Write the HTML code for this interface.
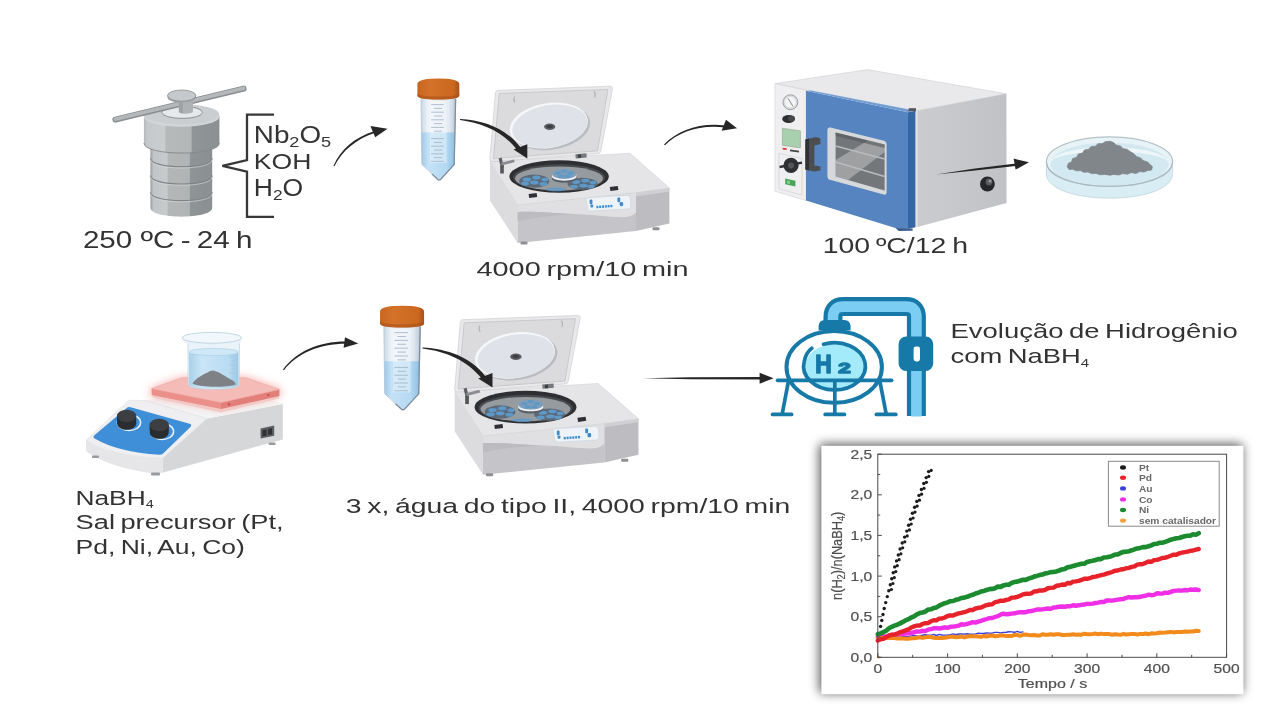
<!DOCTYPE html>
<html lang="pt">
<head>
<meta charset="utf-8">
<title>Síntese e evolução de hidrogênio</title>
<style>
html,body{margin:0;padding:0;background:#fff;width:1280px;height:720px;overflow:hidden}
svg{display:block}
.ar{font-family:"Liberation Sans",Arial,sans-serif;fill:#333}
.rb{font-family:"Liberation Sans","DejaVu Sans",sans-serif;fill:#333}
</style>
</head>
<body>
<svg width="1280" height="720" viewBox="0 0 1280 720">
<defs>
<linearGradient id="tubeG" x1="0" x2="1" y1="0" y2="0">
<stop offset="0" stop-color="#9fc8e6"/><stop offset="0.2" stop-color="#c4e2f6"/><stop offset="0.75" stop-color="#b4d9f2"/><stop offset="1" stop-color="#8fbfe0"/>
</linearGradient>
<linearGradient id="tubeE" x1="0" x2="1" y1="0" y2="0">
<stop offset="0" stop-color="#c9d6e2"/><stop offset="0.2" stop-color="#eef3f8"/><stop offset="0.8" stop-color="#e3ebf3"/><stop offset="1" stop-color="#b9c8d6"/>
</linearGradient>
<linearGradient id="capG" x1="0" x2="1" y1="0" y2="0">
<stop offset="0" stop-color="#c8661f"/><stop offset="0.3" stop-color="#d4722a"/><stop offset="0.85" stop-color="#cc6820"/><stop offset="1" stop-color="#a9521a"/>
</linearGradient>

<linearGradient id="cfFront" x1="0" x2="0" y1="0" y2="1">
<stop offset="0" stop-color="#d9dade"/><stop offset="1" stop-color="#c3c4c8"/>
</linearGradient>


</defs>
<rect width="1280" height="720" fill="#fff"/>
<g id="chart">
<defs><filter id="chSh" x="-10%" y="-10%" width="120%" height="125%"><feGaussianBlur stdDeviation="5.5"/></filter><filter id="soft"><feGaussianBlur stdDeviation="0.6"/></filter></defs>
<rect x="819.4" y="444" width="423" height="249" fill="#000" opacity="0.66" filter="url(#chSh)"/>
<rect x="821.4" y="445.8" width="422" height="248.4" fill="#fff"/>
<g filter="url(#soft)">
<polyline points="877.8,637.2 880.6,637.3 883.4,636.6 886.2,637.3 889.0,636.6 891.8,636.7 894.5,637.0 897.3,636.3 900.1,636.8 902.9,636.2 905.7,636.6 908.5,636.4 911.3,635.9 914.1,635.3 916.9,636.1 919.7,635.9 922.4,635.3 925.2,634.8 928.0,635.1 930.8,635.3 933.6,634.4 936.4,635.5 939.2,634.4 942.0,635.0 944.8,635.1 947.6,635.0 950.4,634.7 953.1,633.9 955.9,634.7 958.7,634.0 961.5,633.9 964.3,634.1 967.1,633.8 969.9,634.3 972.7,634.2 975.5,633.9 978.3,633.2 981.0,633.4 983.8,633.5 986.6,633.0 989.4,633.1 992.2,633.2 995.0,632.4 997.8,632.4 1000.6,632.9 1003.4,632.4 1006.2,632.3 1008.9,631.8 1011.7,631.9 1014.5,632.3 1017.3,631.3 1020.1,632.4 1022.9,631.9" fill="none" stroke="#3a40d8" stroke-width="1.4" stroke-linecap="round" stroke-linejoin="round"/>
<polyline points="877.8,636.7 880.6,637.1 883.4,636.4 886.2,636.6 889.0,635.5 891.8,635.0 894.5,634.9 897.3,634.2 900.1,634.6 902.9,633.8 905.7,633.6 908.5,633.3 911.3,633.1 914.1,632.2 916.9,631.5 919.7,631.6 922.4,630.8 925.2,631.1 928.0,629.7 930.8,629.2 933.6,628.2 936.4,628.1 939.2,628.5 942.0,628.0 944.8,627.3 947.6,627.9 950.4,626.8 953.1,626.6 955.9,626.2 958.7,625.7 961.5,624.3 964.3,624.6 967.1,623.9 969.9,623.2 972.7,622.1 975.5,622.6 978.3,621.6 981.0,620.9 983.8,619.8 986.6,619.0 989.4,618.1 992.2,618.0 995.0,617.0 997.8,616.2 1000.6,614.6 1003.4,613.6 1006.2,614.4 1008.9,614.0 1011.7,613.6 1014.5,613.3 1017.3,612.6 1020.1,612.1 1022.9,612.2 1025.7,612.2 1028.5,611.3 1031.3,611.0 1034.1,610.4 1036.9,609.5 1039.6,609.5 1042.4,609.4 1045.2,608.9 1048.0,608.5 1050.8,608.9 1053.6,607.5 1056.4,607.2 1059.2,606.8 1062.0,606.5 1064.8,606.7 1067.5,606.3 1070.3,606.3 1073.1,605.3 1075.9,605.7 1078.7,605.3 1081.5,604.8 1084.3,604.5 1087.1,603.9 1089.9,603.9 1092.7,603.6 1095.5,603.0 1098.2,602.6 1101.0,601.9 1103.8,602.0 1106.6,600.5 1109.4,600.4 1112.2,600.6 1115.0,600.1 1117.8,599.6 1120.6,599.2 1123.4,599.1 1126.1,597.8 1128.9,597.2 1131.7,597.5 1134.5,597.1 1137.3,597.2 1140.1,596.8 1142.9,596.1 1145.7,595.8 1148.5,594.7 1151.3,595.2 1154.0,594.9 1156.8,593.3 1159.6,593.5 1162.4,593.6 1165.2,592.7 1168.0,592.9 1170.8,591.9 1173.6,590.9 1176.4,590.6 1179.2,590.4 1182.0,590.6 1184.7,590.0 1187.5,590.3 1190.3,589.5 1193.1,589.8 1195.9,589.5 1198.7,590.1" fill="none" stroke="#f02ee6" stroke-width="4.4" stroke-linecap="round" stroke-linejoin="round"/>
<polyline points="877.8,639.0 880.6,638.2 883.4,637.9 886.2,638.0 889.0,638.0 891.8,638.0 894.5,638.0 897.3,638.6 900.1,638.2 902.9,638.4 905.7,638.7 908.5,638.7 911.3,638.3 914.1,638.3 916.9,637.7 919.7,637.3 922.4,637.9 925.2,637.2 928.0,637.1 930.8,637.1 933.6,637.8 936.4,638.0 939.2,637.9 942.0,637.9 944.8,637.8 947.6,637.2 950.4,636.8 953.1,636.8 955.9,637.2 958.7,636.9 961.5,636.6 964.3,637.4 967.1,636.6 969.9,636.2 972.7,636.3 975.5,636.3 978.3,636.5 981.0,636.8 983.8,636.0 986.6,636.5 989.4,635.8 992.2,635.5 995.0,636.2 997.8,636.1 1000.6,635.3 1003.4,635.5 1006.2,636.1 1008.9,636.1 1011.7,636.0 1014.5,634.9 1017.3,635.0 1020.1,635.8 1022.9,634.8 1025.7,634.6 1028.5,635.0 1031.3,635.3 1034.1,635.0 1036.9,635.5 1039.6,635.6 1042.4,634.3 1045.2,634.7 1048.0,634.8 1050.8,634.2 1053.6,634.8 1056.4,634.2 1059.2,634.2 1062.0,635.0 1064.8,634.9 1067.5,634.8 1070.3,634.8 1073.1,634.3 1075.9,634.7 1078.7,634.4 1081.5,634.7 1084.3,633.7 1087.1,634.3 1089.9,634.2 1092.7,634.0 1095.5,633.6 1098.2,634.2 1101.0,633.6 1103.8,634.1 1106.6,634.1 1109.4,634.1 1112.2,634.8 1115.0,634.2 1117.8,634.6 1120.6,634.8 1123.4,633.8 1126.1,634.6 1128.9,634.2 1131.7,633.9 1134.5,634.1 1137.3,634.4 1140.1,634.1 1142.9,634.1 1145.7,633.5 1148.5,634.2 1151.3,633.3 1154.0,633.5 1156.8,633.2 1159.6,632.5 1162.4,632.7 1165.2,632.5 1168.0,632.2 1170.8,631.9 1173.6,632.4 1176.4,632.0 1179.2,632.1 1182.0,631.9 1184.7,631.6 1187.5,631.8 1190.3,631.6 1193.1,631.5 1195.9,630.8 1198.7,631.0" fill="none" stroke="#f28a1e" stroke-width="4.0" stroke-linecap="round" stroke-linejoin="round"/>
<polyline points="877.8,640.6 880.6,639.2 883.4,638.8 886.2,637.2 889.0,635.6 891.8,634.7 894.5,634.6 897.3,633.5 900.1,632.1 902.9,631.5 905.7,630.2 908.5,629.4 911.3,627.5 914.1,626.4 916.9,625.5 919.7,625.6 922.4,624.0 925.2,623.2 928.0,623.1 930.8,621.3 933.6,620.3 936.4,620.4 939.2,618.6 942.0,618.5 944.8,617.5 947.6,616.0 950.4,615.4 953.1,615.5 955.9,614.3 958.7,613.4 961.5,612.8 964.3,612.2 967.1,611.2 969.9,609.9 972.7,610.0 975.5,608.5 978.3,607.8 981.0,607.6 983.8,606.3 986.6,605.1 989.4,604.5 992.2,604.2 995.0,602.2 997.8,601.7 1000.6,600.6 1003.4,600.9 1006.2,599.9 1008.9,599.4 1011.7,597.6 1014.5,597.5 1017.3,596.9 1020.1,595.8 1022.9,594.4 1025.7,593.8 1028.5,593.8 1031.3,593.3 1034.1,591.5 1036.9,591.3 1039.6,590.4 1042.4,590.5 1045.2,589.8 1048.0,588.3 1050.8,587.9 1053.6,587.6 1056.4,585.8 1059.2,585.5 1062.0,584.5 1064.8,584.8 1067.5,583.0 1070.3,583.3 1073.1,581.6 1075.9,581.4 1078.7,580.9 1081.5,579.9 1084.3,578.7 1087.1,578.8 1089.9,578.2 1092.7,577.0 1095.5,576.6 1098.2,576.0 1101.0,575.2 1103.8,574.6 1106.6,573.7 1109.4,572.8 1112.2,572.0 1115.0,570.7 1117.8,570.5 1120.6,569.5 1123.4,569.2 1126.1,568.2 1128.9,567.9 1131.7,566.9 1134.5,566.4 1137.3,564.7 1140.1,564.2 1142.9,564.0 1145.7,562.8 1148.5,561.5 1151.3,561.8 1154.0,560.1 1156.8,559.9 1159.6,559.1 1162.4,557.9 1165.2,557.7 1168.0,556.8 1170.8,555.8 1173.6,554.6 1176.4,554.7 1179.2,553.3 1182.0,552.7 1184.7,552.1 1187.5,551.6 1190.3,550.9 1193.1,550.5 1195.9,549.7 1198.7,549.0" fill="none" stroke="#e8242c" stroke-width="4.4" stroke-linecap="round" stroke-linejoin="round"/>
<polyline points="877.8,634.2 880.6,633.4 883.4,632.1 886.2,630.7 889.0,628.3 891.8,626.8 894.5,625.6 897.3,624.7 900.1,623.4 902.9,621.9 905.7,620.3 908.5,619.2 911.3,617.5 914.1,616.4 916.9,614.3 919.7,613.1 922.4,612.5 925.2,611.7 928.0,609.6 930.8,609.3 933.6,608.1 936.4,607.4 939.2,605.7 942.0,604.4 944.8,603.2 947.6,602.4 950.4,601.2 953.1,601.0 955.9,599.8 958.7,599.2 961.5,598.0 964.3,597.6 967.1,596.8 969.9,595.6 972.7,594.8 975.5,593.5 978.3,592.7 981.0,591.6 983.8,590.9 986.6,590.0 989.4,589.1 992.2,588.9 995.0,588.2 997.8,586.6 1000.6,586.9 1003.4,585.4 1006.2,584.7 1008.9,584.7 1011.7,582.9 1014.5,582.0 1017.3,581.6 1020.1,580.7 1022.9,579.8 1025.7,579.9 1028.5,578.6 1031.3,577.8 1034.1,576.6 1036.9,575.9 1039.6,575.1 1042.4,574.6 1045.2,573.4 1048.0,572.9 1050.8,572.1 1053.6,572.0 1056.4,571.4 1059.2,570.5 1062.0,569.4 1064.8,569.0 1067.5,567.3 1070.3,566.9 1073.1,566.0 1075.9,565.2 1078.7,564.4 1081.5,563.8 1084.3,563.7 1087.1,561.9 1089.9,561.2 1092.7,560.8 1095.5,560.0 1098.2,559.1 1101.0,559.1 1103.8,557.5 1106.6,557.3 1109.4,556.8 1112.2,555.8 1115.0,554.5 1117.8,554.4 1120.6,553.0 1123.4,551.9 1126.1,551.8 1128.9,551.2 1131.7,550.3 1134.5,549.3 1137.3,548.4 1140.1,547.9 1142.9,547.1 1145.7,547.1 1148.5,546.3 1151.3,545.4 1154.0,544.0 1156.8,543.8 1159.6,542.7 1162.4,542.7 1165.2,541.9 1168.0,540.9 1170.8,539.7 1173.6,538.9 1176.4,538.2 1179.2,538.0 1182.0,537.0 1184.7,536.3 1187.5,535.8 1190.3,535.8 1193.1,534.3 1195.9,534.7 1198.7,533.2" fill="none" stroke="#1a8a2e" stroke-width="4.6" stroke-linecap="round" stroke-linejoin="round"/>
<g fill="#1a1a1a"><circle cx="880.6" cy="626.4" r="1.7"/><circle cx="881.8" cy="620.4" r="1.7"/><circle cx="883.0" cy="614.5" r="1.7"/><circle cx="884.2" cy="608.5" r="1.7"/><circle cx="885.7" cy="602.6" r="1.7"/><circle cx="887.3" cy="596.6" r="1.7"/><circle cx="888.8" cy="590.7" r="1.7"/><circle cx="891.4" cy="589.5" r="1.6"/><circle cx="890.3" cy="584.7" r="1.7"/><circle cx="892.9" cy="583.5" r="1.6"/><circle cx="891.7" cy="578.8" r="1.7"/><circle cx="894.3" cy="577.6" r="1.6"/><circle cx="893.2" cy="572.8" r="1.7"/><circle cx="895.8" cy="571.6" r="1.6"/><circle cx="894.7" cy="566.9" r="1.7"/><circle cx="897.3" cy="565.7" r="1.6"/><circle cx="896.5" cy="560.9" r="1.7"/><circle cx="899.1" cy="559.7" r="1.6"/><circle cx="898.3" cy="555.0" r="1.7"/><circle cx="900.9" cy="553.8" r="1.6"/><circle cx="900.1" cy="549.0" r="1.7"/><circle cx="902.7" cy="547.8" r="1.6"/><circle cx="902.2" cy="543.0" r="1.7"/><circle cx="904.8" cy="541.8" r="1.6"/><circle cx="904.6" cy="537.1" r="1.7"/><circle cx="907.2" cy="535.9" r="1.6"/><circle cx="906.8" cy="531.1" r="1.7"/><circle cx="909.4" cy="529.9" r="1.6"/><circle cx="908.6" cy="525.2" r="1.7"/><circle cx="911.2" cy="524.0" r="1.6"/><circle cx="910.5" cy="519.2" r="1.7"/><circle cx="913.1" cy="518.0" r="1.6"/><circle cx="912.4" cy="513.3" r="1.7"/><circle cx="915.0" cy="512.1" r="1.6"/><circle cx="914.6" cy="507.3" r="1.7"/><circle cx="917.2" cy="506.1" r="1.6"/><circle cx="916.8" cy="501.4" r="1.7"/><circle cx="919.4" cy="500.2" r="1.6"/><circle cx="919.0" cy="495.4" r="1.7"/><circle cx="921.6" cy="494.2" r="1.6"/><circle cx="921.4" cy="489.5" r="1.7"/><circle cx="924.0" cy="488.3" r="1.6"/><circle cx="923.8" cy="483.5" r="1.7"/><circle cx="926.4" cy="482.3" r="1.6"/><circle cx="926.2" cy="477.6" r="1.7"/><circle cx="928.8" cy="476.4" r="1.6"/><circle cx="928.6" cy="471.6" r="1.7"/><circle cx="931.2" cy="470.4" r="1.6"/></g>
<circle cx="878.5" cy="657.3" r="1.3" fill="#f28a1e"/>
<rect x="877.8" y="454.2" width="348.8" height="203.1" fill="none" stroke="#4a4a4a" stroke-width="1"/>
<path d="M877.8 657.3 v-4.0 M912.7 657.3 v-2.4 M947.6 657.3 v-4.0 M982.4 657.3 v-2.4 M1017.3 657.3 v-4.0 M1052.2 657.3 v-2.4 M1087.1 657.3 v-4.0 M1122.0 657.3 v-2.4 M1156.8 657.3 v-4.0 M1191.7 657.3 v-2.4 M1226.6 657.3 v-4.0 M877.8 657.3 h4.0 M877.8 637.0 h2.4 M877.8 616.7 h4.0 M877.8 596.4 h2.4 M877.8 576.1 h4.0 M877.8 555.8 h2.4 M877.8 535.4 h4.0 M877.8 515.1 h2.4 M877.8 494.8 h4.0 M877.8 474.5 h2.4 M877.8 454.2 h4.0" stroke="#4a4a4a" stroke-width="1" fill="none"/>
<g font-family="'Liberation Sans',Arial,sans-serif" fill="#505050" stroke="#505050" stroke-width="0.2" font-size="12.3">
<text transform="translate(877.8,672.8) scale(1.27,1)" text-anchor="middle">0</text>
<text transform="translate(947.6,672.8) scale(1.27,1)" text-anchor="middle">100</text>
<text transform="translate(1017.3,672.8) scale(1.27,1)" text-anchor="middle">200</text>
<text transform="translate(1087.1,672.8) scale(1.27,1)" text-anchor="middle">300</text>
<text transform="translate(1156.8,672.8) scale(1.27,1)" text-anchor="middle">400</text>
<text transform="translate(1226.6,672.8) scale(1.27,1)" text-anchor="middle">500</text>
<text transform="translate(872.2,661.7) scale(1.27,1)" text-anchor="end">0,0</text>
<text transform="translate(872.2,621.1) scale(1.27,1)" text-anchor="end">0,5</text>
<text transform="translate(872.2,580.5) scale(1.27,1)" text-anchor="end">1,0</text>
<text transform="translate(872.2,539.8) scale(1.27,1)" text-anchor="end">1,5</text>
<text transform="translate(872.2,499.2) scale(1.27,1)" text-anchor="end">2,0</text>
<text transform="translate(872.2,458.6) scale(1.27,1)" text-anchor="end">2,5</text>
<text transform="translate(1052.5,687.6) scale(1.3,1)" text-anchor="middle">Tempo / s</text>
<text transform="translate(841.7,555.8) rotate(-90) scale(0.879,1)" text-anchor="middle" font-size="14.5">n(H<tspan dy="2.8" font-size="10.6">2</tspan><tspan dy="-2.8">)/n(NaBH</tspan><tspan dy="2.8" font-size="10.6">4</tspan><tspan dy="-2.8">)</tspan></text>
</g>
<rect x="1108.4" y="461.3" width="110.8" height="64.9" fill="#fff" stroke="#8a8a8a" stroke-width="1"/>
<g font-family="'Liberation Sans',Arial,sans-serif" font-size="8.8" font-weight="bold" fill="#686868">
<ellipse cx="1123" cy="467.5" rx="3" ry="2.2" fill="#1a1a1a"/>
<text transform="translate(1139,470.6) scale(1.16,1)">Pt</text>
<ellipse cx="1123" cy="477.7" rx="3" ry="2.2" fill="#e8242c"/>
<text transform="translate(1139,480.8) scale(1.16,1)">Pd</text>
<ellipse cx="1123" cy="488.4" rx="3" ry="2.2" fill="#3a40d8"/>
<text transform="translate(1139,491.5) scale(1.16,1)">Au</text>
<ellipse cx="1123" cy="499.4" rx="3" ry="2.2" fill="#f02ee6"/>
<text transform="translate(1139,502.5) scale(1.16,1)">Co</text>
<ellipse cx="1123" cy="510.0" rx="3" ry="2.2" fill="#1a8a2e"/>
<text transform="translate(1139,513.1) scale(1.16,1)">Ni</text>
<ellipse cx="1123" cy="520.6" rx="3" ry="2.2" fill="#f2a03e"/>
<text transform="translate(1139,523.7) scale(1.16,1)">sem catalisador</text>
</g>
</g>
</g>
<g id="autoclave">
<defs>
<linearGradient id="acBody" x1="0" x2="1" y1="0" y2="0">
<stop offset="0" stop-color="#999da0"/><stop offset="0.05" stop-color="#c2c5c7"/><stop offset="0.27" stop-color="#c8cbcc"/><stop offset="0.285" stop-color="#b3b7b8"/><stop offset="0.63" stop-color="#b0b4b5"/><stop offset="0.645" stop-color="#8f9496"/><stop offset="1" stop-color="#8a8f91"/>
</linearGradient>
<linearGradient id="acCap" x1="0" x2="1" y1="0" y2="0">
<stop offset="0" stop-color="#b4b8ba"/><stop offset="0.04" stop-color="#c6c9cb"/><stop offset="0.275" stop-color="#cacdce"/><stop offset="0.29" stop-color="#b6babb"/><stop offset="0.625" stop-color="#b3b7b8"/><stop offset="0.64" stop-color="#909597"/><stop offset="1" stop-color="#8b9092"/>
</linearGradient>
</defs>
<!-- body -->
<path d="M150.4 146 V207.8 C150.4 219.600 212.2 219.600 212.2 207.8 V146 Z" fill="url(#acBody)"/>
<g fill="none" stroke="#7f8486" stroke-width="1.1">
<path d="M150.4 158.3 C150.4 169.500 212.2 169.500 212.2 158.3"/>
<path d="M150.4 175.6 C150.4 186.8 212.2 186.8 212.2 175.6"/>
<path d="M150.4 192.2 C150.4 203.4 212.2 203.4 212.2 192.2"/>
</g>
<g fill="none" stroke="#d5d8d9" stroke-width="0.8" opacity="0.8">
<path d="M150.4 159.600 C150.4 170.8 212.2 170.8 212.2 159.600"/>
<path d="M150.4 176.900 C150.4 188.1 212.2 188.1 212.2 176.900"/>
<path d="M150.4 193.500 C150.4 204.700 212.2 204.700 212.2 193.500"/>
</g>
<!-- cap -->
<path d="M143.900 116 V143 C143.900 156.400 219.400 156.400 219.400 143 V116 Z" fill="url(#acCap)"/>
<path d="M143.900 143 C143.900 156.400 219.400 156.400 219.400 143" fill="none" stroke="#84898b" stroke-width="0.9"/>
<ellipse cx="181.650" cy="116.400" rx="37.750" ry="10.400" fill="#d3d6d7"/>
<ellipse cx="181.650" cy="114.400" rx="37.750" ry="10.200" fill="#caced0"/>
<ellipse cx="182.2" cy="112.400" rx="20.300" ry="6" fill="#e6e8e9" stroke="#85898b" stroke-width="0.9"/>
<!-- bar -->
<path d="M115.4 119.600 L243.600 88.600" stroke="#8a8e90" stroke-width="6" stroke-linecap="round"/>
<path d="M115.4 119.200 L243.600 88.200" stroke="#b4b8ba" stroke-width="3.600" stroke-linecap="round"/>
<!-- knob -->
<path d="M178.900 98 V111.400 a7 2.400 0 0 0 14 0 V98 Z" fill="#aeb2b4"/>
<path d="M178.900 98 V111.400 a7 2.400 0 0 0 4 2 V98 Z" fill="#9da1a3"/>
<ellipse cx="181.700" cy="97.200" rx="14.200" ry="5.600" fill="#a3a7a9"/>
<ellipse cx="181.700" cy="95.600" rx="14.200" ry="5.600" fill="#c6c9cb" stroke="#858a8c" stroke-width="0.8"/>
</g>

<g id="row1cf"><g>
<!-- left side -->
<path d="M490 161.5 L490 200.4 L517.6 243 L517.6 205 Z" fill="#dcdbde"/>
<!-- front face -->
<path d="M517.6 205 L636 192.6 L636 231 L517.6 243 Z" fill="#c5c5c9"/>
<path d="M636 192.6 L669.4 188 L669.4 223.4 L636 231 Z" fill="#bdbdc1"/>
<path d="M636 192.6 L669.4 188 L669.4 191.4 L636 196.4 Z" fill="#d0d0d4"/>
<!-- front light band with swoosh -->
<path d="M517.6 205 L636 192.6 L636 212.5 C631 218 622 217.6 612 216.8 C598 215.6 586 214.4 573.8 214 C552 213 532 211 517.6 212 Z" fill="#e0dfe2"/>
<path d="M517.6 212 C532 211 552 213 573.8 214 C560 215.4 538 216.4 517.6 221 Z" fill="#bcbcc0"/>
<!-- feet -->
<rect x="520.5" y="241.5" width="7" height="3" rx="1" fill="#8f9094"/>
<rect x="652.5" y="227.3" width="7" height="3" rx="1" fill="#8f9094"/>
<!-- top face -->
<path d="M490 161.5 L630 153.2 L669.4 188 L636 192.6 L517.6 205 Z" fill="#e5e4e7" stroke="#d2d2d7" stroke-width="0.6"/>
<!-- lid -->
<path d="M498 90.4 L610 86.2 Q613 86.2 612.4 89.2 L600.8 151.2 Q600.4 153.4 598 153.6 L492.5 161.6 Q489.5 161.8 489.9 158.8 L495.4 93 Q495.6 90.5 498 90.4 Z" fill="#e9e9eb" stroke="#cfcfd3" stroke-width="0.7"/>
<path d="M499.2 93.4 L608 89.4 L597.6 150.8 L493.4 158.6 Z" fill="#dbdadc" stroke="#c4c3c7" stroke-width="0.8"/>
<path d="M514.5 96.4 q-1.4 3 0.2 6" fill="none" stroke="#b3b2b6" stroke-width="1.2"/>
<path d="M594 91.2 q2.2 3 0.6 6.2" fill="none" stroke="#b3b2b6" stroke-width="1.2"/>
<g transform="rotate(-9 549.7 126)">
<ellipse cx="550.9" cy="127.4" rx="39.4" ry="22.4" fill="#b9bcc2"/>
<ellipse cx="548.9" cy="125.4" rx="39.4" ry="22.4" fill="#f6f7f9"/>
<ellipse cx="549.9" cy="126.3" rx="38" ry="21.2" fill="#dfe2e8"/>
</g>
<ellipse cx="549.7" cy="126.8" rx="5.6" ry="3.2" fill="#5c5d62"/>
<ellipse cx="549.7" cy="126.6" rx="3.2" ry="1.7" fill="#3e3f43"/>
<!-- hinges -->
<path d="M498.6 158.5 l3 -1 l2.4 9.6 l-3 1 Z" fill="#5e5f63"/>
<path d="M501 162.8 l13 -3.4 l0.8 2.6 l-13 3.6 Z" fill="#8b8c91"/>
<rect x="500.2" y="165.5" width="3.6" height="8" fill="#55565a"/>
<path d="M575.4 154.2 l11 -1 l0.4 4.2 l-11 1 Z" fill="#77787d"/>
<path d="M578 154.6 l3 -0.2 l0.2 3.4 l-3 0.2 Z" fill="#3d3e42"/>
<g>
<!-- bowl -->
<ellipse cx="559.1" cy="176.5" rx="49.7" ry="16.2" fill="#2e2f32"/>
<ellipse cx="559.1" cy="177.6" rx="46" ry="13.4" fill="#47494d"/>
<ellipse cx="559" cy="178.4" rx="44" ry="12" fill="#969ba0"/>
<!-- buckets -->
<ellipse cx="534.2" cy="181.2" rx="15" ry="6.6" fill="#5d6a76"/>
<g fill="#5c98c8">
<ellipse cx="527" cy="179.4" rx="4.2" ry="2"/><ellipse cx="536.4" cy="177.6" rx="4.2" ry="2"/><ellipse cx="545" cy="179.6" rx="3.6" ry="1.9"/>
<ellipse cx="525" cy="183.6" rx="4" ry="2"/><ellipse cx="534.4" cy="182.6" rx="4.2" ry="2"/><ellipse cx="543.4" cy="184" rx="4" ry="1.9"/>
</g>
<ellipse cx="582.5" cy="183.8" rx="15" ry="6" fill="#5d6a76"/>
<g fill="#5c98c8">
<ellipse cx="576" cy="182" rx="4.2" ry="1.9"/><ellipse cx="585.4" cy="180.6" rx="4.2" ry="1.9"/><ellipse cx="593" cy="182.6" rx="3.4" ry="1.8"/>
<ellipse cx="574" cy="186.6" rx="4" ry="1.9"/><ellipse cx="583.4" cy="185.6" rx="4.2" ry="1.9"/><ellipse cx="591" cy="186.6" rx="3.6" ry="1.8"/>
</g>
<ellipse cx="556" cy="189.4" rx="10" ry="1.8" fill="#5c98c8" opacity="0.8"/>
<!-- hub -->
<path d="M552 175 v3.6 c0 5.6 24.400 5.600 24.400 0 v-3.600 Z" fill="#59606a"/>
<path d="M552 174 v2.600 c0 5.400 24.400 5.400 24.400 0 v-2.600 Z" fill="#eef2f6"/>
<ellipse cx="564.2" cy="174" rx="12.2" ry="4.9" fill="#7f9db8"/>
<g fill="#5c98c8">
<ellipse cx="558" cy="173" rx="3" ry="1.5"/><ellipse cx="564.2" cy="171" rx="3" ry="1.5"/><ellipse cx="570.4" cy="173" rx="3" ry="1.5"/><ellipse cx="561" cy="176.2" rx="3" ry="1.5"/><ellipse cx="567.6" cy="176.200" rx="3" ry="1.5"/>
</g>
</g>
<!-- latches -->
<path d="M528.6 194 l8 -1 l0.6 4 l-8 1 Z" fill="#2f3033"/>
<path d="M609.8 187 l8 -1 l0.6 4 l-8 1 Z" fill="#2f3033"/>
<!-- panel -->
<path d="M589 197.6 L627 195.4 Q630.2 195.3 630.4 198.4 L630.9 205.6 Q631 208.6 628 208.9 L591 211 Q588 211.2 587.6 208.2 L586.2 200.8 Q586 197.9 589 197.6 Z" fill="#eef3f8" stroke="#c9d2dc" stroke-width="0.6"/>
<g fill="#3f8ccb">
<rect x="589.6" y="199.6" width="2.8" height="4.6" rx="1"/><rect x="590.4" y="204.4" width="2.8" height="3.2" rx="1"/>
<rect x="596.4" y="205.8" width="2" height="2.4"/><rect x="599.2" y="205.6" width="2" height="2.4"/><rect x="602" y="205.4" width="2" height="2.4"/><rect x="604.8" y="205.2" width="2" height="2.4"/><rect x="607.6" y="205" width="2" height="2.4"/><rect x="610.4" y="204.8" width="2" height="2.4"/>
<rect x="617.4" y="197.6" width="2.8" height="4.6" rx="1"/><rect x="619.6" y="202" width="3.6" height="4.2" rx="1.4"/>
</g>
</g><g>
<path d="M421 97 L421.8 164.4 L437.6 179.2 Q439.2 180.6 440.8 179.2 L454.2 164.4 L455.8 97 Z" fill="url(#tubeE)" stroke="#b4c4d3" stroke-width="0.8"/>
<path d="M421.6 132.5 L422.2 164.2 L437.8 178.6 Q439.2 179.8 440.6 178.6 L453.8 164.2 L454.9 132.5 Z" fill="url(#tubeG)"/>
<rect x="430" y="101" width="16.6" height="62" fill="#ffffff" opacity="0.35"/>
<g stroke="#9fb3c6" stroke-width="0.8" fill="none">
<path d="M431 104.6h13M434 108.4h8M431 112.2h13M434 116h8M431 119.8h13M434 123.600h8M431 127.4h13M434 131.2h8M431 138.6h13M434 142.4h8M431 146.2h13M434 150h8M431 153.8h13M434 157.6h8M431 161.4h13"/>
</g>
<path d="M455.6 99 L454.2 164.4 L440.8 179.2 Q439.2 180.6 437.6 179.2 L432 174" fill="none" stroke="#7f8e9c" stroke-width="1.3"/>
<path d="M417.4 84 Q417.4 78.4 438.4 78.4 Q459.3 78.4 459.3 84 V95.6 Q459.3 99.6 438.4 99.6 Q417.4 99.6 417.4 95.6 Z" fill="url(#capG)"/>
<path d="M417.4 93 V95.6 Q417.4 99.6 438.4 99.6 Q459.3 99.6 459.3 95.6 V93 Q459.3 96.4 438.4 96.4 Q417.4 96.4 417.4 93 Z" fill="#a9521a" opacity="0.6"/>
</g></g>
<g id="row2cf"><g transform="translate(-47.0,227.9) scale(1.024,1.0156)">
<!-- left side -->
<path d="M490 161.5 L490 200.4 L517.6 243 L517.6 205 Z" fill="#dcdbde"/>
<!-- front face -->
<path d="M517.6 205 L636 192.6 L636 231 L517.6 243 Z" fill="#c5c5c9"/>
<path d="M636 192.6 L669.4 188 L669.4 223.4 L636 231 Z" fill="#bdbdc1"/>
<path d="M636 192.6 L669.4 188 L669.4 191.4 L636 196.4 Z" fill="#d0d0d4"/>
<!-- front light band with swoosh -->
<path d="M517.6 205 L636 192.6 L636 212.5 C631 218 622 217.6 612 216.8 C598 215.6 586 214.4 573.8 214 C552 213 532 211 517.6 212 Z" fill="#e0dfe2"/>
<path d="M517.6 212 C532 211 552 213 573.8 214 C560 215.4 538 216.4 517.6 221 Z" fill="#bcbcc0"/>
<!-- feet -->
<rect x="520.5" y="241.5" width="7" height="3" rx="1" fill="#8f9094"/>
<rect x="652.5" y="227.3" width="7" height="3" rx="1" fill="#8f9094"/>
<!-- top face -->
<path d="M490 161.5 L630 153.2 L669.4 188 L636 192.6 L517.6 205 Z" fill="#e5e4e7" stroke="#d2d2d7" stroke-width="0.6"/>
<!-- lid -->
<path d="M498 90.4 L610 86.2 Q613 86.2 612.4 89.2 L600.8 151.2 Q600.4 153.4 598 153.6 L492.5 161.6 Q489.5 161.8 489.9 158.8 L495.4 93 Q495.6 90.5 498 90.4 Z" fill="#e9e9eb" stroke="#cfcfd3" stroke-width="0.7"/>
<path d="M499.2 93.4 L608 89.4 L597.6 150.8 L493.4 158.6 Z" fill="#dbdadc" stroke="#c4c3c7" stroke-width="0.8"/>
<path d="M514.5 96.4 q-1.4 3 0.2 6" fill="none" stroke="#b3b2b6" stroke-width="1.2"/>
<path d="M594 91.2 q2.2 3 0.6 6.2" fill="none" stroke="#b3b2b6" stroke-width="1.2"/>
<g transform="rotate(-9 549.7 126)">
<ellipse cx="550.9" cy="127.4" rx="39.4" ry="22.4" fill="#b9bcc2"/>
<ellipse cx="548.9" cy="125.4" rx="39.4" ry="22.4" fill="#f6f7f9"/>
<ellipse cx="549.9" cy="126.3" rx="38" ry="21.2" fill="#dfe2e8"/>
</g>
<ellipse cx="549.7" cy="126.8" rx="5.6" ry="3.2" fill="#5c5d62"/>
<ellipse cx="549.7" cy="126.6" rx="3.2" ry="1.7" fill="#3e3f43"/>
<!-- hinges -->
<path d="M498.6 158.5 l3 -1 l2.4 9.6 l-3 1 Z" fill="#5e5f63"/>
<path d="M501 162.8 l13 -3.4 l0.8 2.6 l-13 3.6 Z" fill="#8b8c91"/>
<rect x="500.2" y="165.5" width="3.6" height="8" fill="#55565a"/>
<path d="M575.4 154.2 l11 -1 l0.4 4.2 l-11 1 Z" fill="#77787d"/>
<path d="M578 154.6 l3 -0.2 l0.2 3.4 l-3 0.2 Z" fill="#3d3e42"/>
<g>
<!-- bowl -->
<ellipse cx="559.1" cy="176.5" rx="49.7" ry="16.2" fill="#2e2f32"/>
<ellipse cx="559.1" cy="177.6" rx="46" ry="13.4" fill="#47494d"/>
<ellipse cx="559" cy="178.4" rx="44" ry="12" fill="#969ba0"/>
<!-- buckets -->
<ellipse cx="534.2" cy="181.2" rx="15" ry="6.6" fill="#5d6a76"/>
<g fill="#5c98c8">
<ellipse cx="527" cy="179.4" rx="4.2" ry="2"/><ellipse cx="536.4" cy="177.6" rx="4.2" ry="2"/><ellipse cx="545" cy="179.6" rx="3.6" ry="1.9"/>
<ellipse cx="525" cy="183.6" rx="4" ry="2"/><ellipse cx="534.4" cy="182.6" rx="4.2" ry="2"/><ellipse cx="543.4" cy="184" rx="4" ry="1.9"/>
</g>
<ellipse cx="582.5" cy="183.8" rx="15" ry="6" fill="#5d6a76"/>
<g fill="#5c98c8">
<ellipse cx="576" cy="182" rx="4.2" ry="1.9"/><ellipse cx="585.4" cy="180.6" rx="4.2" ry="1.9"/><ellipse cx="593" cy="182.6" rx="3.4" ry="1.8"/>
<ellipse cx="574" cy="186.6" rx="4" ry="1.9"/><ellipse cx="583.4" cy="185.6" rx="4.2" ry="1.9"/><ellipse cx="591" cy="186.6" rx="3.6" ry="1.8"/>
</g>
<ellipse cx="556" cy="189.4" rx="10" ry="1.8" fill="#5c98c8" opacity="0.8"/>
<!-- hub -->
<path d="M552 175 v3.6 c0 5.6 24.400 5.600 24.400 0 v-3.600 Z" fill="#59606a"/>
<path d="M552 174 v2.600 c0 5.400 24.400 5.400 24.400 0 v-2.600 Z" fill="#eef2f6"/>
<ellipse cx="564.2" cy="174" rx="12.2" ry="4.9" fill="#7f9db8"/>
<g fill="#5c98c8">
<ellipse cx="558" cy="173" rx="3" ry="1.5"/><ellipse cx="564.2" cy="171" rx="3" ry="1.5"/><ellipse cx="570.4" cy="173" rx="3" ry="1.5"/><ellipse cx="561" cy="176.2" rx="3" ry="1.5"/><ellipse cx="567.6" cy="176.200" rx="3" ry="1.5"/>
</g>
</g>
<!-- latches -->
<path d="M528.6 194 l8 -1 l0.6 4 l-8 1 Z" fill="#2f3033"/>
<path d="M609.8 187 l8 -1 l0.6 4 l-8 1 Z" fill="#2f3033"/>
<!-- panel -->
<path d="M589 197.6 L627 195.4 Q630.2 195.3 630.4 198.4 L630.9 205.6 Q631 208.6 628 208.9 L591 211 Q588 211.2 587.6 208.2 L586.2 200.8 Q586 197.9 589 197.6 Z" fill="#eef3f8" stroke="#c9d2dc" stroke-width="0.6"/>
<g fill="#3f8ccb">
<rect x="589.6" y="199.6" width="2.8" height="4.6" rx="1"/><rect x="590.4" y="204.4" width="2.8" height="3.2" rx="1"/>
<rect x="596.4" y="205.8" width="2" height="2.4"/><rect x="599.2" y="205.6" width="2" height="2.4"/><rect x="602" y="205.4" width="2" height="2.4"/><rect x="604.8" y="205.2" width="2" height="2.4"/><rect x="607.6" y="205" width="2" height="2.4"/><rect x="610.4" y="204.8" width="2" height="2.4"/>
<rect x="617.4" y="197.6" width="2.8" height="4.6" rx="1"/><rect x="619.6" y="202" width="3.6" height="4.2" rx="1.4"/>
</g>
</g><g transform="translate(-58.2,225.5) scale(1.05,1.024)">
<path d="M421 97 L421.8 164.4 L437.6 179.2 Q439.2 180.6 440.8 179.2 L454.2 164.4 L455.8 97 Z" fill="url(#tubeE)" stroke="#b4c4d3" stroke-width="0.8"/>
<path d="M421.6 132.5 L422.2 164.2 L437.8 178.6 Q439.2 179.8 440.6 178.6 L453.8 164.2 L454.9 132.5 Z" fill="url(#tubeG)"/>
<rect x="430" y="101" width="16.6" height="62" fill="#ffffff" opacity="0.35"/>
<g stroke="#9fb3c6" stroke-width="0.8" fill="none">
<path d="M431 104.6h13M434 108.4h8M431 112.2h13M434 116h8M431 119.8h13M434 123.600h8M431 127.4h13M434 131.2h8M431 138.6h13M434 142.4h8M431 146.2h13M434 150h8M431 153.8h13M434 157.6h8M431 161.4h13"/>
</g>
<path d="M455.6 99 L454.2 164.4 L440.8 179.2 Q439.2 180.6 437.6 179.2 L432 174" fill="none" stroke="#7f8e9c" stroke-width="1.3"/>
<path d="M417.4 84 Q417.4 78.4 438.4 78.4 Q459.3 78.4 459.3 84 V95.6 Q459.3 99.6 438.4 99.6 Q417.4 99.6 417.4 95.6 Z" fill="url(#capG)"/>
<path d="M417.4 93 V95.6 Q417.4 99.6 438.4 99.6 Q459.3 99.6 459.3 95.6 V93 Q459.3 96.4 438.4 96.4 Q417.4 96.4 417.4 93 Z" fill="#a9521a" opacity="0.6"/>
</g></g>
<g fill="#262626">
<path d="M460 119 C484 120.5 506 128 520.6 147.6 L517.2 150 C503 131.6 483 123 460 119.9 Z"/>
<path d="M527.3 158.6 L513.6 149.6 L527.3 144.2 Z"/>
<g transform="translate(-55.9,227.3) scale(1.04,1.01)">
<path d="M460 119 C484 120.5 506 128 520.6 147.6 L517.2 150 C503 131.6 483 123 460 119.9 Z"/>
<path d="M527.3 158.6 L513.6 149.6 L527.3 144.2 Z"/>
</g>
</g>

<g id="oven">
<defs>
<linearGradient id="ovSide" x1="0" x2="1" y1="0" y2="0"><stop offset="0" stop-color="#cbcccf"/><stop offset="1" stop-color="#c1c2c5"/></linearGradient>
<linearGradient id="ovWin" x1="0" x2="1" y1="0" y2="1"><stop offset="0" stop-color="#8d9093"/><stop offset="0.5" stop-color="#a5a8ab"/><stop offset="1" stop-color="#7f8285"/></linearGradient>
</defs>
<!-- top -->
<path d="M775 83.6 L867.5 69.6 L1006.4 93.8 L915.6 111 Z" fill="#e9e9eb" stroke="#d0d0d3" stroke-width="0.6"/>
<!-- right side -->
<path d="M915.6 111 L1006.4 93.8 L1006.6 203 L915.6 227.6 Z" fill="url(#ovSide)"/>
<!-- front control panel -->
<path d="M775 83.6 L806 90.4 L806 200.6 L775 191.2 Z" fill="#efeff1" stroke="#d2d2d5" stroke-width="0.6"/>
<!-- door -->
<path d="M915.4 110.8 L917.6 110.6 L917.6 227 L915.4 226.6 Z" fill="#e3e3e5"/>
<path d="M806 90.8 L908 112.2 L908 228.8 L897 228.4 L806 200.4 Z" fill="#5584c1"/>
<path d="M908 112.2 L915.4 110.8 L915.4 227.2 L908 228.8 Z" fill="#3466a5"/>
<path d="M806 90.8 L811 90.4 L915.4 110.8 L908 112.2 Z" fill="#729dd2"/>
<rect x="908.6" y="108.2" width="7.4" height="3" fill="#55575b"/>
<path d="M895.6 228 L912.6 228.4 L912.6 230.8 L898.6 231 Z" fill="#3d5f8f"/>
<!-- window -->
<path d="M830.5 127.6 Q827.4 127 827.4 130 V176.6 Q827.4 179 829.8 179.8 L883.6 194.6 Q886.6 195.2 886.6 192.4 V144 Q886.6 141.6 884 140.8 Z" fill="#d6d8db"/>
<path d="M835.6 132.4 L884.6 144.6 V190.6 L835.6 176.4 Z" fill="#74777a"/>
<path d="M835.6 176.4 L835.6 160 L868 140.4 L884.6 144.6 L884.6 152 L848 180 Z" fill="#ffffff" opacity="0.3"/>
<path d="M835.6 146 L884.6 159 M835.6 162 L884.6 176.4" stroke="#b9bcbf" stroke-width="1.6" fill="none"/>
<path d="M835.6 132.4 L884.6 144.6 V148 L835.6 136 Z" fill="#55585b" opacity="0.6"/>
<!-- handle -->
<path d="M805.4 139.4 L816 137 L820.4 138.6 V144 L814.4 145.4 V165.4 L820.4 166.6 V170.6 L814 171.6 L805.4 169.6 Z" fill="#4b4d51"/>
<path d="M805.4 139.4 L809 138.6 V170.4 L805.4 169.6 Z" fill="#2f3134"/>
<!-- gauge -->
<circle cx="790.4" cy="102.2" r="7.4" fill="#d9dbde" stroke="#9da0a4" stroke-width="1"/>
<circle cx="790.4" cy="102.2" r="5.4" fill="#f4f5f6"/>
<path d="M788 98.4 L793 106.4" stroke="#8a8d72" stroke-width="1"/>
<!-- knob -->
<ellipse cx="788.6" cy="119" rx="6.4" ry="4" fill="#2d2e31"/>
<ellipse cx="791.4" cy="118.4" rx="3.4" ry="3" fill="#47484c"/>
<!-- display -->
<rect x="782.4" y="128.6" width="18" height="17" fill="#a8cfae" stroke="#8aa58a" stroke-width="0.6" transform="skewY(8) translate(0,-110.2)"/>
<rect x="782.6" y="148" width="4" height="1.6" fill="#d33" transform="skewY(8) translate(0,-110.2)"/>
<rect x="790" y="148.6" width="9" height="1.8" fill="#444" transform="skewY(8) translate(0,-110.2)"/>
<!-- dial box -->
<path d="M779 153.4 L802 158.6 V195 L779 188.8 Z" fill="none" stroke="#d0d0d4" stroke-width="0.7"/>
<circle cx="791" cy="165.4" r="7.6" fill="#2f3033"/>
<path d="M779.6 167 L802 162.6" stroke="#2f3033" stroke-width="2.4"/>
<circle cx="791" cy="165.4" r="3" fill="#55565a"/>
<path d="M785.2 178.6 L795.4 180.8 V186.6 L785.2 184.2 Z" fill="#4aa45a"/>
<path d="M787 180.4 L790 181 V184 L787 183.4 Z" fill="#7fd08a"/>
<!-- right knob -->
<circle cx="987.4" cy="184" r="7.4" fill="#26272a"/>
<circle cx="989" cy="182" r="3.4" fill="#5a5b5f"/>
<circle cx="990" cy="181.2" r="1.4" fill="#9a9b9f"/>
</g>

<g id="petri">
<path d="M1046.4 161.600 V173.400 C1046.4 206.400 1172.600 206.400 1172.600 173.400 V161.600 Z" fill="#d9edf4" stroke="#c3d4db" stroke-width="0.8"/>
<ellipse cx="1109.500" cy="161.600" rx="63.100" ry="24.700" fill="#e8f3f7" stroke="#b4c2c9" stroke-width="1.1"/>
<ellipse cx="1109.500" cy="164" rx="59" ry="21.600" fill="#d3e9f1"/>
<path d="M1050.600 163 C1052 142 1167 142 1168.400 163 C1166 147.600 1053 147.600 1050.600 163 Z" fill="#eef6f9"/>
<path d="M1046.400 161.600 C1046.400 194.600 1172.600 194.600 1172.600 161.600" fill="none" stroke="#a9b9c1" stroke-width="1.1"/>
<path d="M1067.200 166.600 L1068.600 163 L1071.600 162 L1072.600 158.600 L1076.600 157.400 L1078.400 154 L1082.600 153 L1084.400 150 L1088.600 149.200 L1091 146.600 L1095.400 146.200 L1098 143.800 L1102.600 143.600 L1105 141.800 L1110 141.200 L1113.600 142.600 L1116 145 L1120.400 146 L1123 148.600 L1127.600 149.400 L1130 151.600 L1133.600 153.600 L1136.600 156.600 L1140.600 158 L1143 160.600 L1147.600 162 L1150 164.400 L1152.400 166.600 L1151.600 170 L1147.600 170.600 L1144 172 L1139.600 171.600 L1136 173.400 L1131 172.600 L1127.600 174.200 L1122.600 173.600 L1119 175 L1113.600 174.400 L1110 175.200 L1104.600 174.400 L1100 174.800 L1096 173.400 L1091.600 173.600 L1088 172 L1083.600 172.200 L1080.600 170.600 L1076 170.800 L1073 169.200 L1069 169.400 Z" fill="#80868a" stroke="#80868a" stroke-width="0.8" stroke-linejoin="round"/>
</g>

<g id="hotplate">
<defs>
<filter id="glow" x="-20%" y="-60%" width="140%" height="220%"><feGaussianBlur stdDeviation="4"/></filter>
<linearGradient id="bkW" x1="0" x2="1" y1="0" y2="0"><stop offset="0" stop-color="#a9d0ea"/><stop offset="0.25" stop-color="#c9e5f6"/><stop offset="0.8" stop-color="#b9dcf2"/><stop offset="1" stop-color="#9cc7e4"/></linearGradient>
</defs>
<!-- base: right/front faces -->
<path d="M162.5 458 L207 418.6 L282.8 404 L282.8 439.4 L163 472.4 Z" fill="#d6d7d9"/>
<path d="M86 440.4 Q112 456.6 162.5 458.4 L163 472.6 Q158 474.4 153 473.4 Q112 468 88.4 453 Q86 452 86 450 Z" fill="#e6e6e9"/>
<!-- base top (white) -->
<path d="M145 400.6 L230 387 L282.8 404 L207 418.6 Z" fill="#f4f4f5"/>
<path d="M127.4 401.6 Q129 400 132 400.2 L146 400.6 L207 418.6 L162.5 458.4 Q112 456.6 86 440.4 Z" fill="#efeff1" stroke="#dcdde0" stroke-width="0.6"/>
<!-- blue panel -->
<path d="M130.6 407.2 L189.6 423.8 Q192.4 424.8 190.4 427 L163.4 453.2 Q161.6 455 159 454.800 Q118 452 94.600 438.400 Q92.400 437.200 94.400 435.200 L126.4 408.2 Q128 406.6 130.6 407.2 Z" fill="#3e8ed8"/>
<!-- knobs -->
<ellipse cx="129" cy="422.6" rx="11.6" ry="8" fill="none" stroke="#e9f2fb" stroke-width="1.5"/>
<ellipse cx="162" cy="431.6" rx="11.6" ry="8" fill="none" stroke="#e9f2fb" stroke-width="1.5"/>
<path d="M117 416 v7.4 a9.6 6.4 0 0 0 19.200 0 v-7.400 Z" fill="#2b2c2f"/>
<ellipse cx="126.600" cy="416" rx="9.6" ry="6.2" fill="#3d3e42"/>
<path d="M149.600 425 v7.4 a9.6 6.4 0 0 0 19.200 0 v-7.400 Z" fill="#2b2c2f"/>
<ellipse cx="159.2" cy="425" rx="9.6" ry="6.2" fill="#3d3e42"/>
<!-- socket -->
<path d="M260.600 428.4 L274.2 425.6 V435.8 L260.600 438.600 Z" fill="#5a5c60"/>
<path d="M262.600 430.2 L266.600 429.400 V435.400 L262.600 436.2 Z M268.2 429 L272 428.2 V434.2 L268.2 435 Z" fill="#2e2f32"/>
<!-- feet -->
<rect x="92" y="455.4" width="7" height="2.6" rx="1" fill="#9a9b9f"/>
<rect x="151" y="472.600" width="9" height="2.8" rx="1" fill="#9a9b9f"/>
<rect x="268.600" y="442.400" width="7" height="2.6" rx="1" fill="#9a9b9f"/>
<!-- plate glow -->
<path d="M150 389 L182 377 L246 377 L281 389 L281 396 L221 409 L150 396 Z" fill="#f0625b" filter="url(#glow)" opacity="0.5"/>
<!-- plate -->
<path d="M152.600 394 L221 408.600 L279 394.600 L279 398.400 L221 412.400 L152.600 397.400 Z" fill="#f3c9c6"/>
<path d="M151.600 388.600 L221 402.600 L221 409 L151.600 395 Z" fill="#ea8f8a"/>
<path d="M221 402.600 L279.400 389.400 L279.400 396 L221 409 Z" fill="#e27f7a"/>
<path d="M151.600 388.600 L181.800 377.800 L245.600 377.800 L279.400 389.400 L221 402.600 Z" fill="#f5bbb7" stroke="#efa6a1" stroke-width="0.6"/>
<circle cx="229" cy="404.2" r="1.3" fill="#c95550"/><circle cx="268.400" cy="395" r="1.3" fill="#c95550"/>
<!-- beaker -->
<path d="M188 340 V384.6 C188 391 239.4 391 239.4 384.6 V340 Z" fill="#e6f2f9" opacity="0.85" stroke="#b7cfdf" stroke-width="0.8"/>
<path d="M189 352 V384.4 C189 390 238.4 390 238.4 384.4 V352 Z" fill="url(#bkW)"/>
<ellipse cx="213.7" cy="352" rx="24.7" ry="3.6" fill="#cfe8f7" stroke="#a8cbe2" stroke-width="0.6"/>
<path d="M229 357h6M231 361h4M229 365h6M231 369h4M229 373h6" stroke="#a5c3d8" stroke-width="0.6"/>
<path d="M192.4 383.6 C196 378 203 374.6 207.6 372.6 C210 370.6 213 370 215.6 371.2 C220 372.4 225 376 229 378.6 C232 380 235.6 382 235.6 384.4 C228 387.6 200 387.8 192.4 383.6 Z" fill="#7e8286"/>
<path d="M182.4 337.6 C182 343 186 343.6 188 343.6 L239.4 343.6 C241 343.6 241.6 340 241.4 337.6 Z" fill="#e9f3f9" opacity="0.9"/>
<ellipse cx="211.8" cy="337.8" rx="29.6" ry="5.4" fill="#f1f7fb" stroke="#bcd0de" stroke-width="0.9"/>
</g>

<g id="h2icon">
<!-- pipe -->
<path d="M833 322 V317 Q833 306.6 843.4 306.6 H906 Q916.4 306.6 916.4 317 V416" fill="none" stroke="#1679a8" stroke-width="19" stroke-linejoin="round"/>
<path d="M833 322 V317 Q833 306.6 843.4 306.6 H906 Q916.4 306.6 916.4 317 V416.6" fill="none" stroke="#7ccdf3" stroke-width="10.6"/>
<!-- valve -->
<rect x="898.6" y="336.6" width="34.6" height="34.4" rx="7.5" fill="#1679a8"/>
<rect x="913.6" y="346.4" width="6.4" height="15" rx="2.4" fill="#fff"/>
<!-- tank -->
<ellipse cx="834.2" cy="366.9" rx="47.7" ry="35.9" fill="#fff" stroke="#1679a8" stroke-width="4"/>
<path d="M818.6 330.4 V326 Q819 320 825 320 H844.4 Q850 320 850.6 326 V330.4 Z" fill="#1679a8"/>
<ellipse cx="834.6" cy="366.6" rx="29.6" ry="22.4" fill="#a3ebfa"/>
<path d="M823.5 344.2 A30.9 23.6 0 1 1 804.2 361.6 Q806 352.5 811.8 348.3" fill="none" stroke="#1679a8" stroke-width="3.7" stroke-linecap="round"/>
<g font-family="'Liberation Sans',Arial,sans-serif" font-weight="bold" fill="#1679a8" stroke="#1679a8" stroke-width="1.5" stroke-linejoin="round">
<text font-size="26.6" transform="translate(815.2,373.4) scale(0.86,1)">H</text>
<text font-size="15" transform="translate(838.2,373.4) scale(1.5,1)">2</text>
</g>
<!-- stand -->
<g stroke="#1679a8" stroke-width="3.7" stroke-linecap="round" fill="none">
<path d="M777.6 380.3 H891.6"/>
<path d="M788.3 381.8 L782.4 413"/><path d="M772.6 414.4 H791.6"/>
<path d="M834.8 381 V413"/><path d="M825.2 414.4 H844.4"/>
<path d="M880 381.8 L886 413"/><path d="M876.4 414.4 H895.8"/>
</g>
</g>

<g id="arrows" fill="#262626" stroke="none">
<!-- brace -->
<path d="M274 114.6 H247 V160 L222.4 165.8 L247 171.7 V216.9 H274" fill="none" stroke="#383838" stroke-width="2.3" stroke-linejoin="miter"/>
<!-- arrow 1 : brace -> tube -->
<path d="M333.4 165.9 C340 150 355 137 374 131.2 L374.6 133 C356 139 342 151 334.4 166.3 Z"/>
<path d="M387.5 128.7 L370.4 126 L375.2 137.2 Z"/>
<!-- arrow 2 : centrifuge -> oven -->
<path d="M664 144.6 C678 130 700 122.5 725 125.4 L724.6 127.4 C700 124.6 679 131.5 665 145.2 Z"/>
<path d="M737 128.2 L726 119.8 L721.6 130.8 Z"/>
<!-- arrow 3 : hotplate -> tube2 -->
<path d="M283 369.6 C296 352 318 341.5 346 341.6 L346 343.8 C319 343.8 297 353.5 284 370.2 Z"/>
<path d="M358.2 343.4 L345 337.2 L343.6 347.8 Z"/>
<!-- oven -> petri -->
<path d="M936 174.4 L975 168.6 L1018 163.2 L1018.4 165.8 L975 170.4 Z"/>
<path d="M1029 162.2 L1013.6 158.6 L1015.6 169.6 Z"/>
<!-- centrifuge2 -> H2 -->
<path d="M643 378.3 L690 377.3 L762 377 V379.6 L690 379.3 Z"/>
<path d="M773.6 378.2 L759.6 372.8 V383.8 Z"/>
</g>

<g id="labels">
<text class="ar" font-size="23" transform="translate(82.9,247.5) scale(1.285,1)">250 <tspan font-size="27" dy="2.6">º</tspan><tspan dy="-2.6">C</tspan><tspan dx="-1.5"> </tspan>-<tspan dx="-1.5"> </tspan>24<tspan dx="-1.5"> </tspan>h</text>
<text class="ar" font-size="23" transform="translate(253.8,143.0) scale(1.210,1)">Nb<tspan dy="4" font-size="15">2</tspan><tspan dy="-4">O</tspan><tspan dy="4" font-size="15">5</tspan><tspan dy="-4">&#8203;</tspan></text>
<text class="ar" font-size="23" transform="translate(253.8,169.4) scale(1.156,1)">KOH</text>
<text class="ar" font-size="23" transform="translate(253.8,195.6) scale(1.153,1)">H<tspan dy="4" font-size="15">2</tspan><tspan dy="-4">O</tspan></text>
<text class="rb" font-size="19.8" word-spacing="-1.6" transform="translate(476.5,275.5) scale(1.459,1)">4000 rpm/10 min</text>
<text class="rb" font-size="21.6" word-spacing="-1.6" transform="translate(822.7,253.2) scale(1.317,1)">100 ºC/12 h</text>
<text class="rb" font-size="21" word-spacing="-1.6" transform="translate(950.5,337.5) scale(1.308,1)">Evolução de Hidrogênio</text>
<text class="rb" font-size="21" word-spacing="-1.6" transform="translate(950.5,363.0) scale(1.305,1)">com NaBH<tspan dy="3.6" font-size="11.5">4</tspan><tspan dy="-3.6">&#8203;</tspan></text>
<text class="rb" font-size="21" word-spacing="-1.6" transform="translate(75.5,504.5) scale(1.253,1)">NaBH<tspan dy="3.6" font-size="11.5">4</tspan><tspan dy="-3.6">&#8203;</tspan></text>
<text class="rb" font-size="21" word-spacing="-1.6" transform="translate(75.5,528.75) scale(1.300,1)">Sal precursor (Pt,</text>
<text class="rb" font-size="21" word-spacing="-1.6" transform="translate(75.5,553.75) scale(1.264,1)">Pd, Ni, Au, Co)</text>
<text class="rb" font-size="20.5" word-spacing="-1.6" transform="translate(345.75,513.2) scale(1.385,1)">3 x, água do tipo II, 4000 rpm/10 min</text>
</g>
</svg>
</body>
</html>
